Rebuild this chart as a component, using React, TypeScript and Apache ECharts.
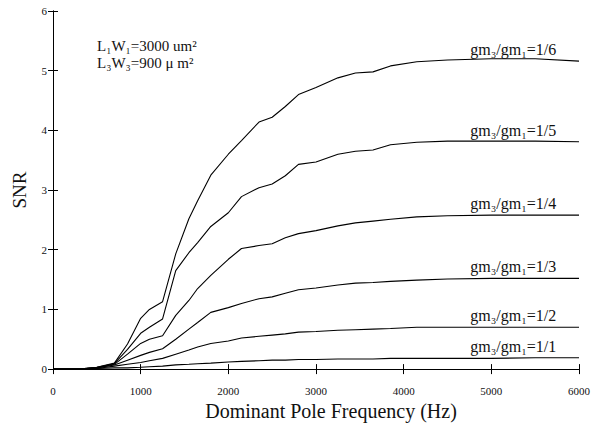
import React, { useEffect, useRef } from "react";
import * as echarts from "echarts";

const freqs = [0, 300, 500, 700, 850, 1000, 1100, 1250, 1400, 1550, 1650, 1800, 2000, 2150, 2350, 2500, 2650, 2800, 3000, 3250, 3450, 3650, 3850, 4150, 4500, 5000, 5500, 6000];

const snr16 = [0, 0, 0.03, 0.1, 0.42, 0.85, 1.0, 1.13, 1.93, 2.52, 2.82, 3.25, 3.6, 3.83, 4.14, 4.22, 4.4, 4.6, 4.72, 4.88, 4.96, 4.98, 5.08, 5.15, 5.18, 5.2, 5.2, 5.16];
const snr15 = [0, 0, 0.03, 0.09, 0.33, 0.6, 0.7, 0.84, 1.65, 1.95, 2.12, 2.39, 2.62, 2.89, 3.04, 3.1, 3.24, 3.43, 3.47, 3.6, 3.65, 3.67, 3.76, 3.8, 3.82, 3.82, 3.82, 3.81];
const snr14 = [0, 0, 0.02, 0.08, 0.25, 0.43, 0.5, 0.56, 0.9, 1.15, 1.35, 1.57, 1.84, 2.02, 2.07, 2.1, 2.2, 2.27, 2.32, 2.4, 2.45, 2.48, 2.51, 2.55, 2.57, 2.58, 2.58, 2.58];
const snr13 = [0, 0, 0.02, 0.07, 0.15, 0.23, 0.28, 0.34, 0.5, 0.67, 0.78, 0.95, 1.03, 1.1, 1.18, 1.21, 1.27, 1.33, 1.36, 1.41, 1.44, 1.45, 1.47, 1.49, 1.51, 1.52, 1.52, 1.52];
const snr12 = [0, 0, 0.01, 0.05, 0.08, 0.11, 0.14, 0.18, 0.25, 0.32, 0.37, 0.43, 0.47, 0.52, 0.55, 0.57, 0.59, 0.62, 0.63, 0.65, 0.66, 0.67, 0.68, 0.7, 0.7, 0.7, 0.7, 0.7];
const snr11 = [0, 0, 0.01, 0.02, 0.02, 0.03, 0.04, 0.05, 0.07, 0.08, 0.09, 0.1, 0.12, 0.13, 0.14, 0.15, 0.15, 0.16, 0.16, 0.17, 0.17, 0.17, 0.18, 0.18, 0.18, 0.18, 0.19, 0.19];

const seriesNames = ["gm₃/gm₁=1/6", "gm₃/gm₁=1/5", "gm₃/gm₁=1/4", "gm₃/gm₁=1/3", "gm₃/gm₁=1/2", "gm₃/gm₁=1/1"];
const seriesValues = [snr16, snr15, snr14, snr13, snr12, snr11];
const labelFreq = 5250;

const xTicks = [0, 1000, 2000, 3000, 4000, 5000, 6000];
const yTicks = [0, 1, 2, 3, 4, 5, 6];

const annotationLines = ["L₁W₁=3000 um²", "L₃W₃=900 μ m²"];
const xTitle = "Dominant Pole Frequency (Hz)";
const yTitle = "SNR";

const FONT = "Liberation Serif, Times New Roman, serif";

export default function App() {
  const ref = useRef<HTMLDivElement>(null);
  useEffect(() => {
    if (!ref.current) return;
    const chart = echarts.init(ref.current, null, { renderer: "svg" });
    const axisLine = { show: true, lineStyle: { color: "#000", width: 1 } };
    const axisTick = { show: true, inside: true, length: 5, lineStyle: { color: "#000" } };
    const labelStyle = { color: "#111", fontFamily: FONT, fontSize: 11, formatter: (v: number) => String(v) };
    chart.setOption({
      animation: false,
      backgroundColor: "#fff",
      grid: { left: 53, right: 25, top: 11, bottom: 51, containLabel: false },
      xAxis: [
        {
          type: "value",
          min: xTicks[0],
          max: xTicks[xTicks.length - 1],
          interval: 1000,
          position: "bottom",
          axisLine,
          axisTick,
          splitLine: { show: false },
          axisLabel: { ...labelStyle, margin: 16 },
          name: xTitle,
          nameLocation: "middle",
          nameGap: 27,
          nameTextStyle: { color: "#111", fontFamily: FONT, fontSize: 20, padding: [0, 0, 0, 30] },
        },
        {
          type: "value",
          min: xTicks[0],
          max: xTicks[xTicks.length - 1],
          interval: 1000,
          position: "top",
          axisLine,
          axisTick,
          splitLine: { show: false },
          axisLabel: { show: false },
        },
      ],
      yAxis: [
        {
          type: "value",
          min: yTicks[0],
          max: yTicks[yTicks.length - 1],
          interval: 1,
          position: "left",
          axisLine,
          axisTick,
          splitLine: { show: false },
          axisLabel: { ...labelStyle, margin: 6 },
          name: yTitle,
          nameLocation: "middle",
          nameGap: 24,
          nameTextStyle: { color: "#111", fontFamily: FONT, fontSize: 19 },
        },
        {
          type: "value",
          min: yTicks[0],
          max: yTicks[yTicks.length - 1],
          interval: 1,
          position: "right",
          axisLine,
          axisTick,
          splitLine: { show: false },
          axisLabel: { show: false },
        },
      ],
      series: seriesNames.map((name, i) => {
        const vals = seriesValues[i];
        return {
          name,
          type: "line",
          xAxisIndex: 0,
          yAxisIndex: 0,
          data: freqs.map((f, j) => [f, vals[j]]),
          showSymbol: false,
          symbol: "none",
          lineStyle: { color: "#000", width: 1.1 },
          markPoint: {
            symbol: "circle",
            symbolSize: 1,
            itemStyle: { color: "rgba(0,0,0,0)" },
            label: {
              show: true,
              position: "top",
              distance: 3,
              formatter: name,
              color: "#111",
              fontFamily: FONT,
              fontSize: 16,
            },
            data: [{ coord: [labelFreq, vals[vals.length - 1]] }],
          },
        };
      }),
      graphic: annotationLines.map((t, i) => ({
        type: "text",
        left: 97,
        top: 38 + i * 17,
        style: { text: t, fill: "#111", font: `15px ${FONT}` },
      })),
    });
    return () => chart.dispose();
  }, []);
  return (
    <div
      ref={ref}
      style={{ position: "fixed", left: 0, top: 0, width: 604, height: 426, background: "#fff" }}
    />
  );
}
